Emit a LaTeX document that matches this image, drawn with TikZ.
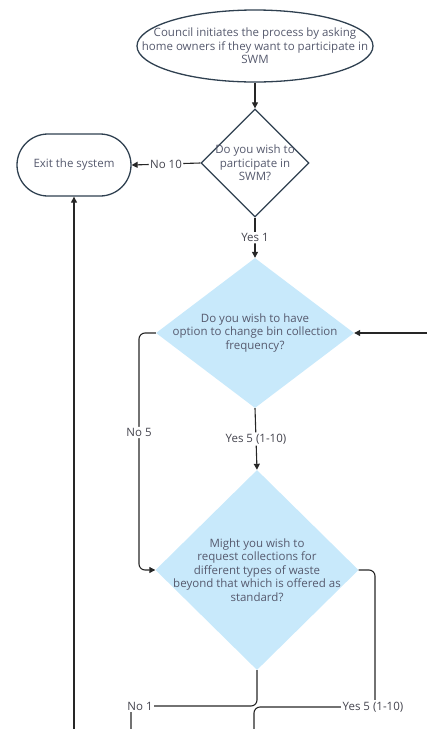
\documentclass[tikz,border=0pt]{standalone}
\usepackage{fontspec}
\setmainfont{Open Sans}
\usetikzlibrary{shapes.geometric,arrows.meta}
\definecolor{txt}{HTML}{565A6E}
\definecolor{edge}{HTML}{2F4050}
\definecolor{qfill}{HTML}{C8E9FB}
\definecolor{lbltxt}{HTML}{45454F}

\begin{document}
\begin{tikzpicture}[x=1pt,y=-1pt,
  every node/.style={font=\fontsize{11.5}{13.5}\selectfont, text=txt, align=center, inner sep=0pt},
  conn/.style={draw=black!85, line width=1.1pt, rounded corners=6pt},
  arr/.style={conn, -{Triangle[length=6pt,width=6pt]}},
  lbl/.style={fill=white, inner sep=1.5pt, text=lbltxt},
  outline/.style={draw=edge, line width=1.3pt, fill=white},
  question/.style={diamond, fill=qfill, inner sep=0pt},
]
\clip (0,0) rectangle (427,729);

% shapes
\node[outline, ellipse, minimum width=236pt, minimum height=72pt] (start) at (255,46) {};
\node[outline, diamond, minimum width=108pt, minimum height=108pt] (q1) at (255,163) {};
\node[outline, rectangle, rounded corners=31pt, minimum width=114pt, minimum height=62pt] (exit) at (74,165) {};
\node[question, minimum width=198pt, minimum height=150pt] (q2) at (255,333) {};
\node[question, minimum width=203pt, minimum height=200pt] (q3) at (257,570) {};

% texts inside the shapes
\node (startText) at (start) {Council initiates the process by asking\\home owners if they want to participate in\\SWM};
\node (q1Text) at (q1) {Do you wish to\\participate in\\SWM?};
\node (exitText) at (exit) {Exit the system};
\node (q2Text) at (q2) {Do you wish to have\\option to change bin collection\\frequency?};
\node (q3Text) at (q3) {Might you wish to\\request collections for\\different types of waste\\beyond that which is offered as\\standard?};

% loose ends running off the page
\coordinate (inR) at (432,333);
\coordinate (inB) at (74,740);
\coordinate (noOut) at (131,740);
\coordinate (yesOut) at (254,740);

% connectors
\draw[arr] (start.south) -- (q1.north);
\draw[arr] (q1.west) -- node[lbl] {No 10} (exit.east);
\draw[arr] (q1.south) -- node[lbl] {Yes 1} (q2.north);
\draw[arr] (q2.south) -- node[lbl] {Yes 5 (1-10)} (q3.north);
\draw[arr] (inR) -- (q2.east);
\draw[arr] (q2.west) -- (139,333) -- node[lbl, pos=0.42] {No 5} (139,570) -- (q3.west);
\draw[arr] (inB) -- (exit.south);
\draw[conn] (q3.east) -- (375,570) -- (375,707) -- (254,707) -- (yesOut);
\draw[conn] (q3.south) -- (257,706) -- (131,706) -- (noOut);
\node[lbl] at (373,707) {Yes 5 (1-10)};
\node[lbl] at (140,706) {No 1};
\end{tikzpicture}
\end{document}
